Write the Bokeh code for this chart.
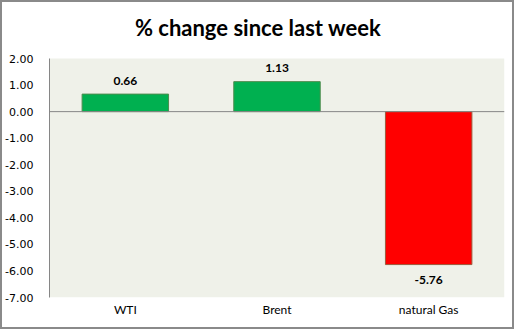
from bokeh.plotting import figure
from bokeh.models import (ColumnDataSource, Span, FixedTicker, NumeralTickFormatter, LabelSet,
                          Range1d, Label, BoxAnnotation)
from bokeh.core.properties import value
from bokeh.embed import file_html
from bokeh.resources import INLINE

title_text = "% change since last week"
categories = ["WTI", "Brent", "natural Gas"]
values = [0.66, 1.13, -5.76]
colors = ["#00B050", "#00B050", "#FF0000"]
edge_colors = ["#4E8C4E", "#4E8C4E", "#9C5A3C"]
labels = ["0.66", "1.13", "-5.76"]
y_ticks = [-7, -6, -5, -4, -3, -2, -1, 0, 1, 2]
y_min, y_max = -7, 2

label_y = [v + 0.5 if v >= 0 else v - 0.58 for v in values]
src = ColumnDataSource(dict(cat=categories, val=values, color=colors, edge=edge_colors,
                            lab=labels, ly=label_y))

p = figure(x_range=categories, y_range=Range1d(y_min, 4.11), width=514, height=329,
           output_backend="svg", toolbar_location=None,
           min_border_left=47, min_border_right=12, min_border_top=0, min_border_bottom=34,
           styles={"border": "2px solid #8A8A8A"})

# plot-area fill limited to the value axis range
p.add_layout(BoxAnnotation(bottom=y_min, top=y_max, fill_color="#EFF1E9", fill_alpha=1.0,
                           line_color=None, level="underlay"))

p.vbar(x="cat", top="val", bottom=0, width=0.57, fill_color="color", line_color="edge",
       line_width=1, source=src)

p.add_layout(Span(location=0, dimension="width", line_color="#868686", line_width=1))

p.add_layout(LabelSet(x="cat", y="ly", text="lab", source=src, text_align="center",
                      text_baseline="middle", text_font_size=value("12px"),
                      text_font_style="bold", text_font=value("Lato"), text_color="#000000"))

p.add_layout(Label(x=1.5, y=3.17, x_offset=-19, text=title_text, text_align="center",
                   text_baseline="middle", text_font="Lato", text_font_size="22px",
                   text_font_style="bold", text_color="#000000"))

p.background_fill_color = "#FFFFFF"
p.border_fill_color = "#FFFFFF"
p.outline_line_color = None
p.grid.visible = False

p.yaxis.ticker = FixedTicker(ticks=y_ticks)
p.yaxis.bounds = (y_min, y_max)
p.yaxis.formatter = NumeralTickFormatter(format="0.00")
p.yaxis.axis_line_color = "#868686"
p.yaxis.major_tick_line_color = None
p.yaxis.minor_tick_line_color = None
p.yaxis.major_label_text_font = "DejaVu Sans"
p.yaxis.major_label_text_font_size = "11px"
p.yaxis.major_label_text_color = "#000000"
p.yaxis.major_label_standoff = 10

p.xaxis.axis_line_color = None
p.xaxis.major_tick_line_color = None
p.xaxis.minor_tick_line_color = None
p.xaxis.major_tick_out = 0
p.xaxis.major_tick_in = 0
p.xaxis.major_label_text_font = "Lato"
p.xaxis.major_label_text_font_size = "12px"
p.xaxis.major_label_text_color = "#000000"
p.xaxis.major_label_standoff = 4

open("out.html", "w").write(file_html(p, INLINE))
